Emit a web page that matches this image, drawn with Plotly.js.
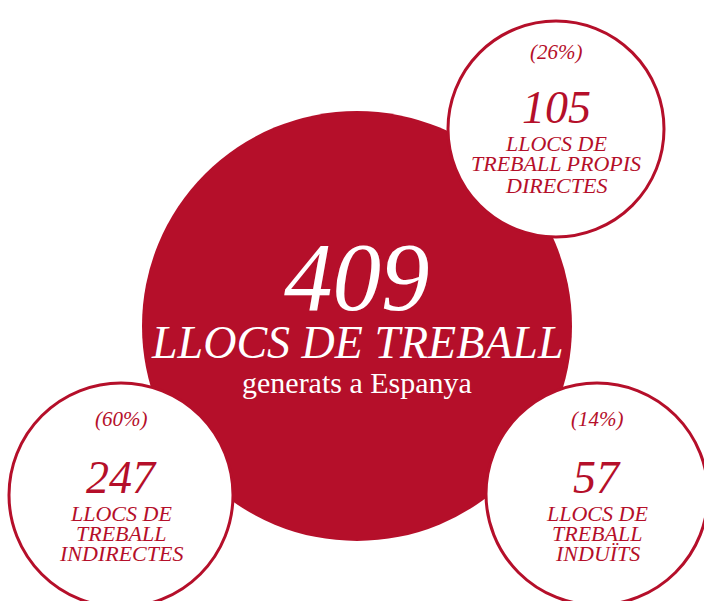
<!DOCTYPE html>
<html>
<head>
<meta charset="utf-8">
<script src="https://cdn.plot.ly/plotly-3.0.1.min.js"></script>
<style>
  html, body { margin: 0; padding: 0; background: #fff; }
  #plot { width: 704px; height: 601px; }
</style>
</head>
<body>
<div id="plot"></div>
<script>
// dades
const totalJobs = 409;
const totalLabel = 'LLOCS DE TREBALL';
const totalSub = 'generats a Espanya';
const jobs = [105, 247, 57];
const shares = ['(26%)', '(60%)', '(14%)'];
const labelLines = [
    ['LLOCS DE', 'TREBALL PROPIS', 'DIRECTES'],
    ['LLOCS DE', 'TREBALL', 'INDIRECTES'],
    ['LLOCS DE', 'TREBALL', 'INDUÏTS']
];

// disposició (en píxels de la imatge)
const red = '#b50f2a';
const serif = 'Liberation Serif, Times New Roman, serif';
const bigBubble = { x: 357, y: 326, r: 215 };
const bubbles = [
    { x: 556, y: 129, r: 108 },
    { x: 121, y: 495, r: 112 },
    { x: 597, y: 494, r: 111 }
];

function circle(b, fill, line) {
    return {
        type: 'circle', xref: 'x', yref: 'y', layer: 'above',
        x0: b.x - b.r, x1: b.x + b.r, y0: b.y - b.r, y1: b.y + b.r,
        fillcolor: fill,
        line: line
    };
}

function note(text, x, y, size, color, italic) {
    return {
        text: text, x: x, y: y, xref: 'x', yref: 'y',
        showarrow: false, xanchor: 'center', yanchor: 'middle',
        font: { family: serif, size: size, color: color, style: italic ? 'italic' : 'normal' }
    };
}

function initPlot() {
    const shapes = [circle(bigBubble, red, { width: 0 })];
    bubbles.forEach(function(b) {
        shapes.push(circle(b, '#ffffff', { color: red, width: 3 }));
    });

    const annotations = [
        note(String(totalJobs), bigBubble.x, 277, 97, '#ffffff', true),
        note(totalLabel, bigBubble.x, 342, 46, '#ffffff', true),
        note(totalSub, bigBubble.x, 382, 30, '#ffffff', false)
    ];

    // posicions verticals relatives al centre de cada bombolla
    const offsets = [
        { share: -77, value: -22, lines: [14, 34, 56] },
        { share: -76, value: -18, lines: [18, 38, 58] },
        { share: -75, value: -17, lines: [19, 39, 59] }
    ];

    bubbles.forEach(function(b, i) {
        const o = offsets[i];
        annotations.push(note(shares[i], b.x, b.y + o.share, 21, red, true));
        annotations.push(note(String(jobs[i]), b.x, b.y + o.value, 46, red, true));
        labelLines[i].forEach(function(t, k) {
            annotations.push(note(t, b.x, b.y + o.lines[k], 22, red, true));
        });
    });

    const layout = {
        width: 704,
        height: 601,
        margin: { l: 0, r: 0, t: 0, b: 0 },
        paper_bgcolor: '#ffffff',
        plot_bgcolor: '#ffffff',
        showlegend: false,
        xaxis: { range: [0, 704], visible: false, fixedrange: true },
        yaxis: { range: [601, 0], visible: false, fixedrange: true },
        shapes: shapes,
        annotations: annotations
    };

    Plotly.newPlot('plot', [], layout, { displayModeBar: false, staticPlot: true });
}

document.addEventListener('DOMContentLoaded', initPlot);
</script>
</body>
</html>
